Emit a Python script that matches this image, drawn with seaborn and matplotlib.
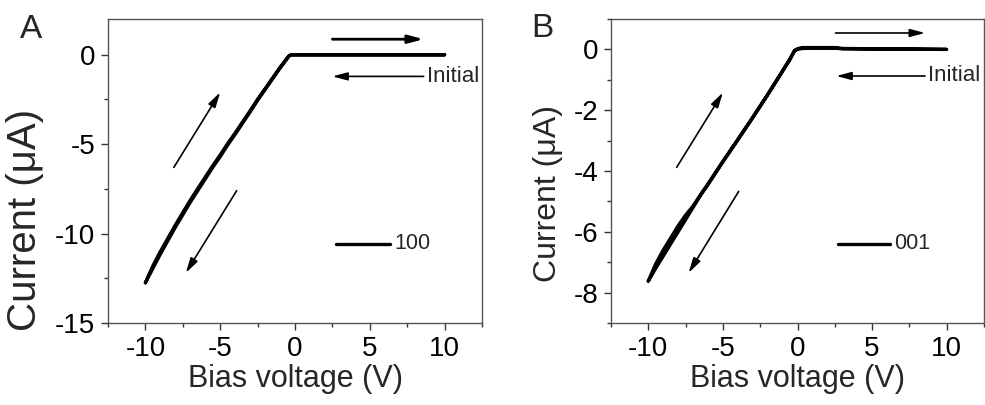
import matplotlib
matplotlib.use("Agg")
import matplotlib.pyplot as plt
import seaborn as sns
import pandas as pd
from matplotlib.ticker import MultipleLocator

# ---------------- data ----------------
a_volt = [-10.0, -9.5, -9.0, -8.5, -8.0, -7.5, -7.0, -6.5, -6.0, -5.5, -5.0, -4.5,
          -4.0, -3.5, -3.0, -2.5, -2.0, -1.5, -1.0, -0.6, -0.4, -0.25, 10.0]
a_curr_down = [-12.75, -11.95, -11.15, -10.4, -9.65, -8.95, -8.25, -7.6, -6.95, -6.3,
               -5.7, -5.05, -4.45, -3.82, -3.2, -2.55, -1.95, -1.35, -0.75, -0.3,
               -0.08, 0.0, 0.0]
a_curr_up = [-12.75, -11.8, -11.0, -10.26, -9.52, -8.82, -8.13, -7.48, -6.84, -6.2,
             -5.6, -4.96, -4.37, -3.75, -3.13, -2.49, -1.9, -1.3, -0.7, -0.26,
             -0.05, 0.0, 0.0]

b_volt = [-10.0, -9.5, -9.0, -8.5, -8.0, -7.5, -7.0, -6.5, -6.0, -5.0, -4.0, -3.0,
          -2.0, -1.0, -0.5, -0.2, 0.0, 0.3, 1.0, 2.5, 3.0, 10.0]
b_curr_down = [-7.62, -7.2, -6.8, -6.4, -6.0, -5.6, -5.2, -4.8, -4.45, -3.7, -2.98,
               -2.25, -1.5, -0.72, -0.33, -0.05, 0.0, 0.03, 0.04, 0.04, 0.02, 0.0]
b_curr_up = [-7.62, -7.05, -6.6, -6.2, -5.8, -5.45, -5.15, -4.78, -4.42, -3.68, -2.96,
             -2.23, -1.48, -0.7, -0.31, -0.03, 0.02, 0.06, 0.06, 0.06, 0.03, 0.0]

panel_labels = ["A", "B"]
legend_labels = ["100", "001"]
y_limits = [(-15, 2), (-9, 1)]
y_major = [5, 2]
y_minor = [2.5, 1]

# arrow annotations per panel: (start, end, linewidth)
arrows_a = [((2.5, 0.87), (8.6, 0.87), 2.0), ((8.6, -1.21), (2.5, -1.21), 1.2),
            ((-8.1, -6.3), (-5.0, -2.1), 1.2), ((-3.9, -7.6), (-7.3, -12.2), 1.2)]
arrows_b = [((2.55, 0.54), (8.55, 0.54), 1.2), ((8.55, -0.875), (2.6, -0.875), 1.2),
            ((-8.1, -3.88), (-5.0, -1.42), 1.2), ((-3.94, -4.67), (-7.3, -7.35), 1.2)]
initial_pos = [(8.8, -1.21), (8.75, -0.875)]
leg_line = [((2.75, 6.33), -10.58), ((2.7, 6.2), -6.39)]
ylabel_size = [29, 23]
ylabel_coords = [(-0.172, 0.34), (-0.128, 0.425)]

sns.set_theme(style="white")
plt.rcParams["font.family"] = ["Liberation Sans", "DejaVu Sans"]
plt.rcParams["axes.unicode_minus"] = False

fig = plt.figure(figsize=(9.85, 4.05), dpi=100)
ax_a = fig.add_axes([108 / 985, 82 / 405, 374 / 985, 304 / 405])
ax_b = fig.add_axes([611 / 985, 82 / 405, 373 / 985, 304 / 405])

for i, ax in enumerate([ax_a, ax_b]):
    if i == 0:
        v, d, u, arrows = a_volt, a_curr_down, a_curr_up, arrows_a
    else:
        v, d, u, arrows = b_volt, b_curr_down, b_curr_up, arrows_b
    df = pd.DataFrame({
        "V": list(v) + list(v)[::-1],
        "I": list(d) + list(u)[::-1],
    })
    sns.lineplot(data=df, x="V", y="I", sort=False, estimator=None, ax=ax,
                 color="black", lw=2.4, solid_joinstyle="round", solid_capstyle="round")
    ax.set_xlim(-12.5, 12.5)
    ax.set_ylim(*y_limits[i])
    ax.xaxis.set_major_locator(MultipleLocator(5))
    ax.xaxis.set_minor_locator(MultipleLocator(2.5))
    ax.yaxis.set_major_locator(MultipleLocator(y_major[i]))
    ax.yaxis.set_minor_locator(MultipleLocator(y_minor[i]))
    ax.tick_params(which="both", direction="out", bottom=True, left=True,
                   top=False, right=False, colors="#333333", labelcolor="black")
    ax.tick_params(which="major", length=5, width=1, labelsize=20, pad=4)
    ax.tick_params(which="minor", length=3, width=1)
    ax.tick_params(axis="x", which="major", pad=4)
    for s in ax.spines.values():
        s.set_visible(True)
        s.set_color("#555555")
        s.set_linewidth(1.0)
    ax.set_xlabel("Bias voltage (V)", fontsize=22, labelpad=2)
    ax.set_ylabel("Current (μA)", fontsize=ylabel_size[i])
    ax.yaxis.set_label_coords(*ylabel_coords[i])

    for (st, en, w) in arrows:
        ax.annotate("", xy=en, xytext=st,
                    arrowprops=dict(arrowstyle="-|>,head_length=0.75,head_width=0.2",
                                    color="black", lw=w, shrinkA=0, shrinkB=0))
    ax.text(initial_pos[i][0], initial_pos[i][1], "Initial", fontsize=16,
            va="center", ha="left")
    (x0, x1), yl = leg_line[i]
    ax.plot([x0, x1], [yl, yl], color="black", lw=2.4)
    ax.text(x1 + 0.3, yl, legend_labels[i], fontsize=15.5, va="center", ha="left")

fig.text(20 / 985, 1 - 38 / 405, panel_labels[0], fontsize=24, ha="left", va="baseline")
fig.text(531 / 985, 1 - 37 / 405, panel_labels[1], fontsize=24, ha="left", va="baseline")

fig.savefig("out.png", dpi=100)
